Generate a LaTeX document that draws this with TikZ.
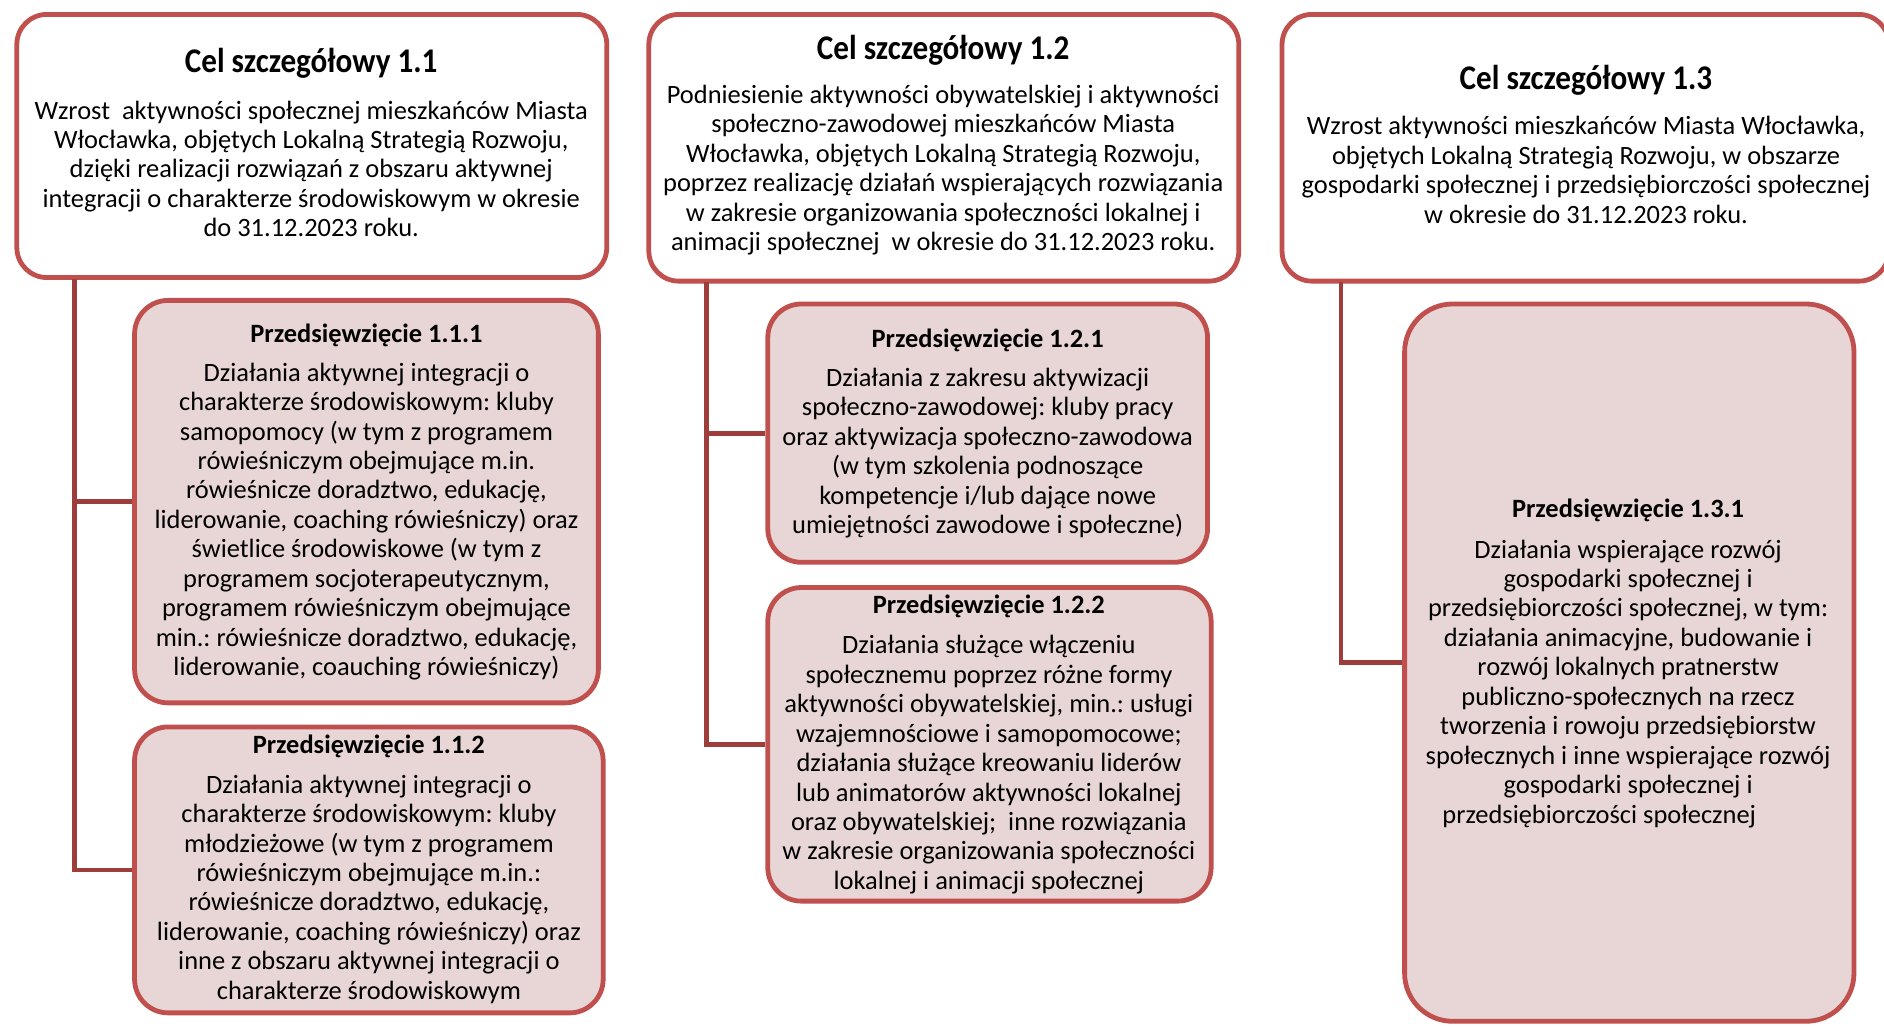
\documentclass[tikz,border=0pt]{standalone}
\usepackage{fontspec}
\setmainfont{Carlito}
\newfontfamily\ttlfont[FakeStretch=0.9]{Carlito}
\frenchspacing
\definecolor{bord}{RGB}{192,80,77}
\definecolor{connc}{RGB}{158,62,60}
\definecolor{pfill}{RGB}{232,213,213}
\begin{document}
\begin{tikzpicture}[x=0.5pt,y=-0.5pt,
  cbox/.style={draw=bord, line width=2pt, rounded corners=12.5pt, fill=white, inner sep=0pt},
  pbox/.style={cbox, fill=pfill, rounded corners=14pt},
  conline/.style={draw=connc, line width=2pt},
  ttl/.style={font=\ttlfont\fontsize{14.4}{16}\selectfont\bfseries, inner sep=0pt},
  ptl/.style={font=\fontsize{11}{12.25}\selectfont\bfseries, inner sep=0pt},
  body/.style={font=\fontsize{11}{12.25}\selectfont, align=center, inner sep=0pt}]
\useasboundingbox (0,0) rectangle (1568,854);

% boxes
\node[cbox, minimum width=245.5pt, minimum height=109.5pt] (c1) at (259.5,121.5) {};
\node[cbox, minimum width=245.5pt, minimum height=111pt] (c2) at (785.5,123) {};
\node[cbox, minimum width=252.5pt, minimum height=111pt] (c3) at (1319.5,123) {};
\node[pbox, minimum width=193pt, minimum height=167.5pt] (p111) at (305,417.5) {};
\node[pbox, minimum width=195pt, minimum height=119pt] (p112) at (307,724) {};
\node[pbox, minimum width=183pt, minimum height=107.5pt] (p121) at (822,360.5) {};
\node[pbox, minimum width=184.5pt, minimum height=130.5pt] (p122) at (823.5,619.5) {};
\node[pbox, rounded corners=20pt, minimum width=187pt, minimum height=298.5pt] (p131) at (1356,551.5) {};

% connectors
\coordinate (t1) at (62,232);
\coordinate (t2) at (588,235);
\coordinate (t3) at (1116,235);
\draw[conline] (t1) |- (p112.west);
\draw[conline] (t1 |- p111.west) -- (p111.west);
\draw[conline] (t2) |- (p122.west);
\draw[conline] (t2 |- p121.west) -- (p121.west);
\draw[conline] (t3) |- (p131.west);

% texts
\node[ttl] (c1t) at (259,53) {Cel szczegółowy 1.1};
\node[body] (c1b) at (259,140.5) {Wzrost\ \ aktywności społecznej mieszkańców Miasta\\Włocławka, objętych Lokalną Strategią Rozwoju,\\dzięki realizacji rozwiązań z obszaru aktywnej\\integracji o charakterze środowiskowym w okresie\\do 31.12.2023 roku.};

\node[ttl] (c2t) at (785,42) {Cel szczegółowy 1.2};
\node[body] (c2b) at (785,141.5) {Podniesienie aktywności obywatelskiej i aktywności\\społeczno-zawodowej mieszkańców Miasta\\Włocławka, objętych Lokalną Strategią Rozwoju,\\poprzez realizację działań wspierających rozwiązania\\w zakresie organizowania społeczności lokalnej i\\animacji społecznej\ \ w okresie do 31.12.2023 roku.};

\node[ttl] (c3t) at (1320,67) {Cel szczegółowy 1.3};
\node[body] (c3b) at (1320,141.5) {Wzrost aktywności mieszkańców Miasta Włocławka,\\objętych Lokalną Strategią Rozwoju, w obszarze\\gospodarki społecznej i przedsiębiorczości społecznej\\w okresie do 31.12.2023 roku.};

\node[ptl] (p111t) at (305,279) {Przedsięwzięcie 1.1.1};
\node[body] (p111b) at (305,434) {Działania aktywnej integracji o\\charakterze środowiskowym: kluby\\samopomocy (w tym z programem\\rówieśniczym obejmujące m.in.\\rówieśnicze doradztwo, edukację,\\liderowanie, coaching rówieśniczy) oraz\\świetlice środowiskowe (w tym z\\programem socjoterapeutycznym,\\programem rówieśniczym obejmujące\\min.: rówieśnicze doradztwo, edukację,\\liderowanie, coauching rówieśniczy)};

\node[ptl] (p112t) at (307,621) {Przedsięwzięcie 1.1.2};
\node[body] (p112b) at (307,740) {Działania aktywnej integracji o\\charakterze środowiskowym: kluby\\młodzieżowe (w tym z programem\\rówieśniczym obejmujące m.in.:\\rówieśnicze doradztwo, edukację,\\liderowanie, coaching rówieśniczy) oraz\\inne z obszaru aktywnej integracji o\\charakterze środowiskowym};

\node[ptl] (p121t) at (822,283) {Przedsięwzięcie 1.2.1};
\node[body] (p121b) at (822,377) {Działania z zakresu aktywizacji\\społeczno-zawodowej: kluby pracy\\oraz aktywizacja społeczno-zawodowa\\(w tym szkolenia podnoszące\\kompetencje i/lub dające nowe\\umiejętności zawodowe i społeczne)};

\node[ptl] (p122t) at (823,505) {Przedsięwzięcie 1.2.2};
\node[body] (p122b) at (823,636.5) {Działania służące włączeniu\\społecznemu poprzez różne formy\\aktywności obywatelskiej, min.: usługi\\wzajemnościowe i samopomocowe;\\działania służące kreowaniu liderów\\lub animatorów aktywności lokalnej\\oraz obywatelskiej;\ \ inne rozwiązania\\w zakresie organizowania społeczności\\lokalnej i animacji społecznej};

\node[ptl] (p131t) at (1355,425) {Przedsięwzięcie 1.3.1};
\node[body] (p131b) at (1355,569) {Działania wspierające rozwój\\gospodarki społecznej i\\przedsiębiorczości społecznej, w tym:\\działania animacyjne, budowanie i\\rozwój lokalnych pratnerstw\\publiczno-społecznych na rzecz\\tworzenia i rowoju przedsiębiorstw\\społecznych i inne wspierające rozwój\\gospodarki społecznej i\\przedsiębiorczości społecznej\hspace*{24pt}};
\end{tikzpicture}
\end{document}
